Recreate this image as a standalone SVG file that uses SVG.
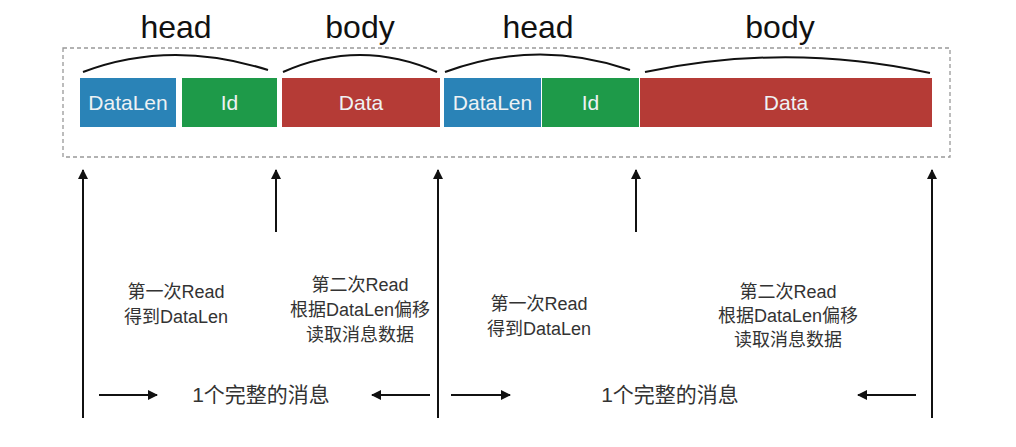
<svg xmlns="http://www.w3.org/2000/svg" width="1016" height="447" viewBox="0 0 1016 447">
<defs>
<marker id="ah" viewBox="0 0 10 10" refX="9" refY="5" markerWidth="5" markerHeight="5" orient="auto" markerUnits="strokeWidth">
<path d="M0,0 L10,5 L0,10 z" fill="#111"/>
</marker>
<style>
.box{stroke:none}
.blue{fill:#2a83b7}
.green{fill:#1e9a49}
.red{fill:#b53b36}
.bt{font-family:"Liberation Sans","Noto Sans",sans-serif;font-size:21px;fill:#eef2f4;text-anchor:middle}
.hd{font-family:"Liberation Sans","Noto Sans",sans-serif;font-size:32px;fill:#111;text-anchor:middle}
.lbl{font-family:"Liberation Sans","Noto Sans CJK SC",sans-serif;font-size:18px;fill:#333;text-anchor:middle}
.msg{font-family:"Liberation Sans","Noto Sans CJK SC",sans-serif;font-size:21px;fill:#333;text-anchor:middle}
.arc{fill:none;stroke:#111;stroke-width:2}
.ar{fill:none;stroke:#111;stroke-width:2;marker-end:url(#ah)}
</style>
</defs>
<rect width="1016" height="447" fill="#fff"/>
<rect x="63" y="48" width="887" height="109" fill="none" stroke="#999" stroke-width="1.3" stroke-dasharray="4,3"/>
<g id="labels-top">
<text class="hd" x="176" y="38">head</text>
<text class="hd" x="360" y="38">body</text>
<text class="hd" x="538" y="38">head</text>
<text class="hd" x="780" y="38">body</text>
</g>
<g id="arcs">
<path class="arc" d="M83,72 Q170,39 268,70"/>
<path class="arc" d="M283,72 Q360,38 437,72"/>
<path class="arc" d="M445,72 Q537,38 630,70"/>
<path class="arc" d="M645,72 Q788,42 930,73"/>
</g>
<g id="datalen1"><rect class="box blue" x="80" y="78" width="96" height="49"/><text class="bt" x="128" y="110">DataLen</text></g>
<g id="id1"><rect class="box green" x="182" y="78" width="95" height="49"/><text class="bt" x="229.5" y="110">Id</text></g>
<g id="data1"><rect class="box red" x="282" y="78" width="158" height="49"/><text class="bt" x="361" y="110">Data</text></g>
<g id="datalen2"><rect class="box blue" x="444" y="78" width="97" height="49"/><text class="bt" x="492.5" y="110">DataLen</text></g>
<g id="id2"><rect class="box green" x="542" y="78" width="97" height="49"/><text class="bt" x="590.5" y="110">Id</text></g>
<g id="data2"><rect class="box red" x="640" y="78" width="292" height="49"/><text class="bt" x="786" y="110">Data</text></g>
<g id="connectors">
<line class="ar" x1="83" y1="418" x2="83" y2="170"/>
<line class="ar" x1="276" y1="232" x2="276" y2="170"/>
<line class="ar" x1="438" y1="418" x2="438" y2="170"/>
<line class="ar" x1="636" y1="232" x2="636" y2="170"/>
<line class="ar" x1="932" y1="418" x2="932" y2="170"/>
<line class="ar" x1="99" y1="395" x2="157" y2="395"/>
<line class="ar" x1="430" y1="395" x2="372" y2="395"/>
<line class="ar" x1="451" y1="395" x2="510" y2="395"/>
<line class="ar" x1="916" y1="395" x2="858" y2="395"/>
</g>
<g id="read1">
<text class="lbl" x="176" y="298">第一次Read</text>
<text class="lbl" x="176" y="323">得到DataLen</text>
</g>
<g id="read2">
<text class="lbl" x="360" y="291">第二次Read</text>
<text class="lbl" x="360" y="316">根据DataLen偏移</text>
<text class="lbl" x="360" y="341">读取消息数据</text>
</g>
<g id="read3">
<text class="lbl" x="539" y="310">第一次Read</text>
<text class="lbl" x="539" y="335">得到DataLen</text>
</g>
<g id="read4">
<text class="lbl" x="788" y="298">第二次Read</text>
<text class="lbl" x="788" y="322">根据DataLen偏移</text>
<text class="lbl" x="788" y="346">读取消息数据</text>
</g>
<g id="msg1"><text class="msg" x="261" y="402">1个完整的消息</text></g>
<g id="msg2"><text class="msg" x="670" y="402">1个完整的消息</text></g>
</svg>
